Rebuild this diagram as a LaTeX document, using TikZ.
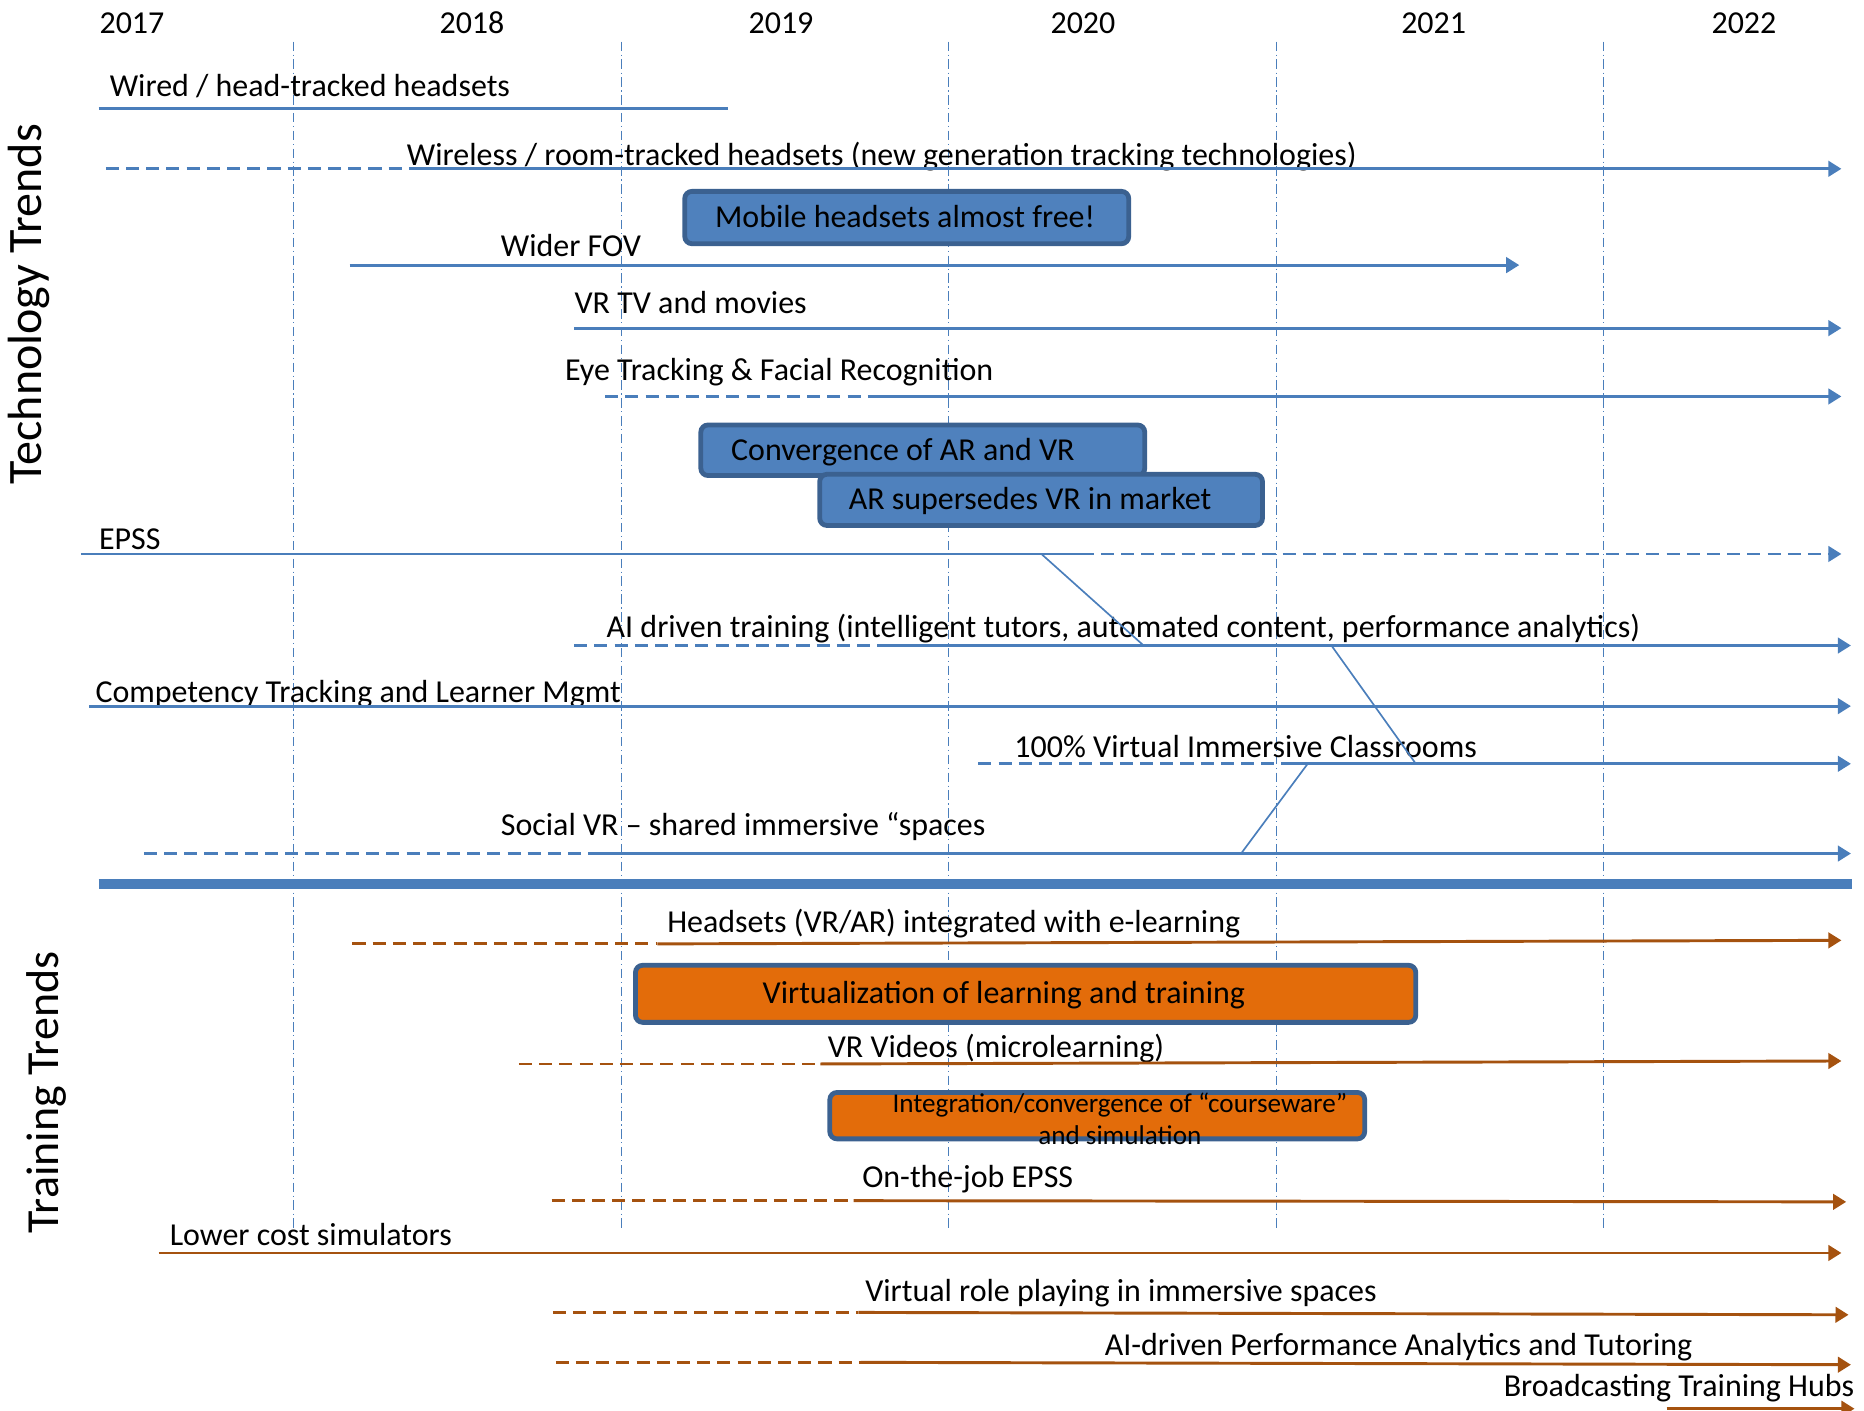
\documentclass[tikz,border=0pt]{standalone}
\usepackage{fontspec}
\setmainfont{Carlito}
\usepackage{xcolor}
\usetikzlibrary{positioning,arrows.meta}
\definecolor{techblue}{HTML}{4A7EBB}
\definecolor{boxblue}{HTML}{4F81BD}
\definecolor{boxedge}{HTML}{3B6190}
\definecolor{trainbrown}{HTML}{A5520F}
\definecolor{trainorange}{HTML}{E36C0A}
\newcommand{\trendfont}{\fontsize{15.3}{18}\selectfont}
\newcommand{\smallbarfont}{\fontsize{13}{15.4}\selectfont}
\newcommand{\techsidefont}{\fontsize{23}{27}\selectfont}
\newcommand{\trainsidefont}{\fontsize{22}{26}\selectfont}
\tikzset{
	trend/.style = {
		anchor=base west, inner sep=0pt, font=\trendfont
	}
}
\tikzset{
	year/.style = {
		anchor=base, inner sep=0pt, font=\trendfont
	}
}
\tikzset{
	side/.style = {
		rotate=90, anchor=base, inner sep=0pt
	}
}
\tikzset{
	tech/.style = {
		draw=techblue, line width=1.4pt
	}
}
\tikzset{
	train/.style = {
		draw=trainbrown, line width=1.4pt
	}
}
\tikzset{
	planned/.style = {
		dash pattern=on 0.22cm off 0.12cm
	}
}
\tikzset{
	continues/.style = {
		-{Triangle[length=0.22cm,width=0.26cm]}
	}
}
\tikzset{
	link/.style = {
		draw=techblue, line width=0.8pt
	}
}
\tikzset{
	yearline/.style = {
		draw=techblue, line width=0.6pt, dash pattern=on 0.16cm off 0.06cm on 0.02cm off 0.06cm
	}
}
\tikzset{
	bar/.style = {
		draw=boxedge, line width=2.3pt, rounded corners=0.12cm, inner sep=0pt, font=\trendfont,
		align=flush left, text height=0.34cm, text depth=0pt
	}
}
\tikzset{
	techbar/.style = {
		bar, fill=boxblue
	}
}
\tikzset{
	trainbar/.style = {
		bar, fill=trainorange
	}
}

\begin{document}
\begin{tikzpicture}[x=0.02cm, y=-0.02cm]
	\useasboundingbox (0,0) rectangle (1568,1186.9);
	% years
	\node[year](y2017) at (111,28){2017};
	\node[year](y2018) at (397,28){2018};
	\node[year](y2019) at (657,28){2019};
	\node[year](y2020) at (911,28){2020};
	\node[year](y2021) at (1206,28){2021};
	\node[year](y2022) at (1467,28){2022};
	\draw[yearline] (247,35) -- (247,1034);
	\draw[yearline] (522.5,35) -- (522.5,1034);
	\draw[yearline] (798,35) -- (798,1034);
	\draw[yearline] (1073.5,35) -- (1073.5,1034);
	\draw[yearline] (1349,35) -- (1349,1034);
	% section titles
	\node[side, font=\techsidefont](techtitle) at (35,256){Technology Trends};
	\node[side, font=\trainsidefont](traintitle) at (49,919){Training Trends};
	% technology trends
	\node[trend](wired) at (92,81){Wired / head-tracked headsets};
	\draw[tech] (83,91) -- (612,91);
	\node[trend](wireless) at (342,139){Wireless / room-tracked headsets (new generation tracking technologies)};
	\draw[tech, planned] (89,142) -- (345,142);
	\draw[tech, continues] (345,142) -- (1549,142);
	\node[techbar, minimum width=7.47cm, minimum height=0.88cm, text width=7.47cm](mobile) at (762.75,183){\hspace*{0.51cm}Mobile headsets almost free!};
	\node[trend](fov) at (421,216){Wider FOV};
	\draw[tech, continues] (294,223) -- (1278,223);
	\node[trend](vrtv) at (483,264){VR TV and movies};
	\draw[tech, continues] (483,276) -- (1549,276);
	\node[trend](eyetracking) at (475,320){Eye Tracking \& Facial Recognition};
	\draw[tech, planned] (509,333.5) -- (740,333.5);
	\draw[tech, continues] (740,333.5) -- (1549,333.5);
	\node[techbar, minimum width=7.47cm, minimum height=0.85cm, text width=7.47cm](convergence) at (776.25,378.75){\hspace*{0.51cm}Convergence of AR and VR};
	\node[techbar, minimum width=7.45cm, minimum height=0.86cm, text width=7.45cm](supersedes) at (875.75,420.5){\hspace*{0.49cm}AR supersedes VR in market};
	\node[trend](epss) at (83,462){EPSS};
	\draw[tech] (68,466) -- (909,466);
	\draw[tech, planned, continues] (909,466) -- (1549,466);
	\node[trend](aitraining) at (510,536){AI driven training (intelligent tutors, automated content, performance analytics)};
	\draw[tech, planned] (483,543) -- (740,543);
	\draw[tech, continues] (740,543) -- (1557,543);
	\node[trend](competency) at (80,591){Competency Tracking and Learner Mgmt};
	\draw[tech, continues] (75,594) -- (1557,594);
	\node[trend](classrooms) at (853,637){100\% Virtual Immersive Classrooms};
	\draw[tech, planned] (823,642.5) -- (1079,642.5);
	\draw[tech, continues] (1079,642.5) -- (1557,642.5);
	\node[trend](socialvr) at (421,703){Social VR – shared immersive “spaces};
	\draw[tech, planned] (121,718) -- (500,718);
	\draw[tech, continues] (500,718) -- (1557,718);
	% links between trends
	\coordinate (epss-ai) at (876,466);
	\coordinate (ai-in) at (962,543);
	\coordinate (ai-out) at (1120,543);
	\coordinate (classrooms-in) at (1191,642.5);
	\coordinate (classrooms-out) at (1100,642.5);
	\coordinate (socialvr-in) at (1044,718);
	\draw[link] (epss-ai) -- (ai-in);
	\draw[link] (ai-out) -- (classrooms-in);
	\draw[link] (classrooms-out) -- (socialvr-in);
	% separator
	\draw[techblue, line width=4.8pt] (83,744) -- (1558,744);
	% training trends
	\node[trend](headsets) at (561,784){Headsets (VR/AR) integrated with e-learning};
	\draw[train, planned] (296.5,794) -- (553,794);
	\draw[train, continues] (553,794) -- (1549,791);
	\node[trainbar, minimum width=13.13cm, minimum height=0.96cm, text width=13.13cm](virtualization) at (862.75,836){\hspace*{2.14cm}Virtualization of learning and training};
	\node[trend](vrvideos) at (696,889.5){VR Videos (microlearning)};
	\draw[train, planned] (436.5,895) -- (690,895);
	\draw[train, continues] (690,895) -- (1549,892.5);
	\node[trainbar, minimum width=9cm, minimum height=0.78cm](courseware) at (923,938.5){};
	\node[font=\smallbarfont, align=center, inner sep=0pt](coursewaretext) at (942,941){Integration/convergence of “courseware”\\and simulation};
	\node[trend](onthejob) at (725,998.5){On-the-job EPSS};
	\draw[train, planned] (464,1010) -- (718,1010);
	\draw[train, continues] (718,1010) -- (1553,1011);
	\node[trend](simulators) at (142.5,1047.5){Lower cost simulators};
	\draw[train, continues] (133.5,1054) -- (1549,1054);
	\node[trend](roleplaying) at (727.5,1094.5){Virtual role playing in immersive spaces};
	\draw[train, planned] (465,1104) -- (722,1104);
	\draw[train, continues] (722,1104) -- (1555,1106);
	\node[trend](analytics) at (929,1140){AI-driven Performance Analytics and Tutoring};
	\draw[train, planned] (467.5,1146) -- (724,1146);
	\draw[train, continues] (724,1146) -- (1557,1148);
	\node[trend, anchor=base east](hubs) at (1560,1174.5){Broadcasting Training Hubs};
	\draw[train, continues] (1402,1185) -- (1560,1185);
\end{tikzpicture}
\end{document}
